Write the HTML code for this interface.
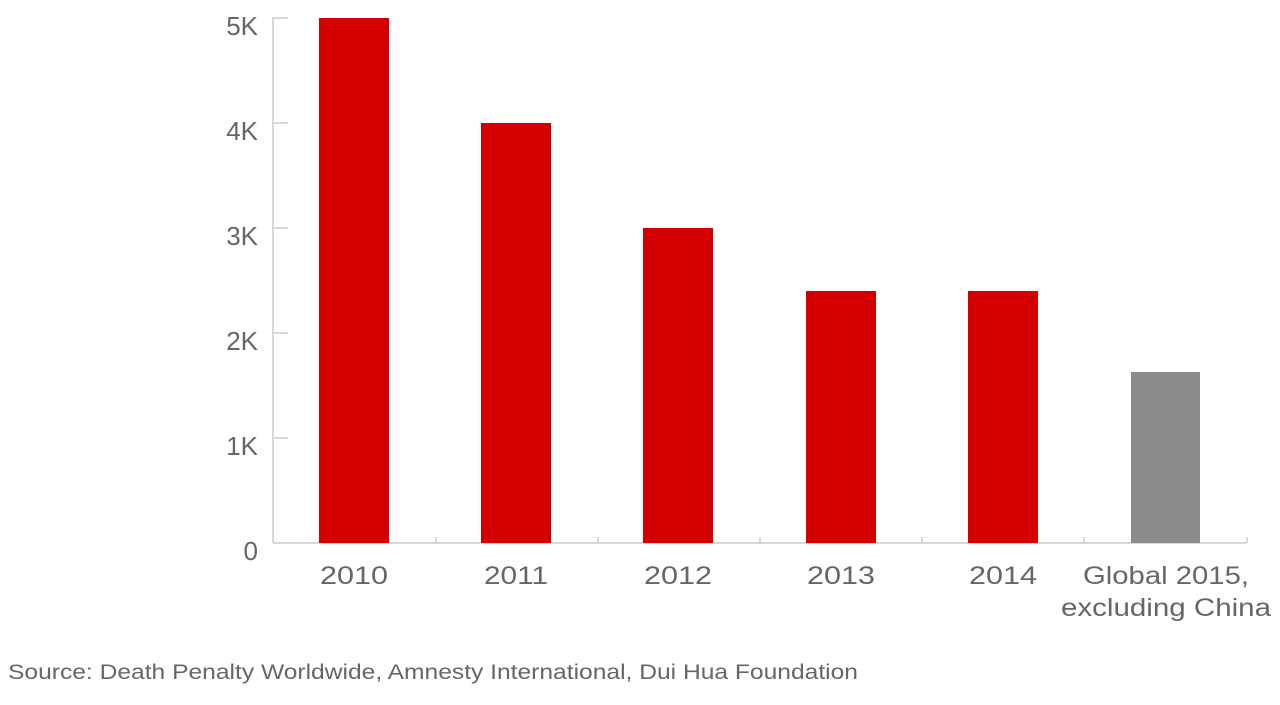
<!DOCTYPE html>
<html><head><meta charset="utf-8"><style>
html,body{margin:0;padding:0;background:#fff;}
svg text{font-family:"Liberation Sans",sans-serif;fill:#666;}
</style></head><body>
<svg width="1280" height="700" viewBox="0 0 1280 700" xmlns="http://www.w3.org/2000/svg">
<g stroke="#ccc" stroke-width="1.5" fill="none">
<line x1="273" y1="17" x2="273" y2="543"/>
<line x1="273" y1="543" x2="1247" y2="543"/>
<line x1="273" y1="18" x2="288" y2="18"/>
<line x1="273" y1="123" x2="288" y2="123"/>
<line x1="273" y1="228" x2="288" y2="228"/>
<line x1="273" y1="333" x2="288" y2="333"/>
<line x1="273" y1="438" x2="288" y2="438"/>
<line x1="436" y1="537" x2="436" y2="543"/>
<line x1="598" y1="537" x2="598" y2="543"/>
<line x1="760" y1="537" x2="760" y2="543"/>
<line x1="922" y1="537" x2="922" y2="543"/>
<line x1="1084" y1="537" x2="1084" y2="543"/>
<line x1="1247" y1="537" x2="1247" y2="543"/>
</g>
<g fill="#d40000">
<rect x="319" y="18" width="70" height="525"/>
<rect x="481" y="123" width="70" height="420"/>
<rect x="643" y="228" width="70" height="315"/>
<rect x="806" y="291" width="70" height="252"/>
<rect x="968" y="291" width="70" height="252"/>
</g>
<rect x="1131" y="372" width="69" height="171" fill="#8c8c8c"/>
<g font-size="26" text-anchor="end">
<text x="258" y="35">5K</text>
<text x="258" y="140">4K</text>
<text x="258" y="245">3K</text>
<text x="258" y="350">2K</text>
<text x="258" y="455">1K</text>
<text x="258" y="560">0</text>
</g>
<g font-size="25" text-anchor="middle">
<text x="354" y="584" textLength="68" lengthAdjust="spacingAndGlyphs">2010</text>
<text x="516" y="584" textLength="64" lengthAdjust="spacingAndGlyphs">2011</text>
<text x="678" y="584" textLength="68" lengthAdjust="spacingAndGlyphs">2012</text>
<text x="841" y="584" textLength="68" lengthAdjust="spacingAndGlyphs">2013</text>
<text x="1003" y="584" textLength="68" lengthAdjust="spacingAndGlyphs">2014</text>
<text x="1166" y="584" textLength="166" lengthAdjust="spacingAndGlyphs">Global 2015,</text>
<text x="1166" y="616" textLength="210" lengthAdjust="spacingAndGlyphs">excluding China</text>
</g>
<text x="8" y="679" font-size="21" textLength="850" lengthAdjust="spacingAndGlyphs">Source: Death Penalty Worldwide, Amnesty International, Dui Hua Foundation</text>
</svg>
</body></html>
